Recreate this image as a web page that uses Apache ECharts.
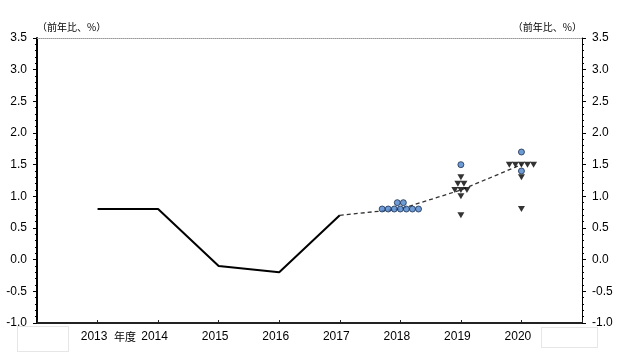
<!DOCTYPE html>
<html><head><meta charset="utf-8">
<script src="https://cdn.jsdelivr.net/npm/echarts@6/dist/echarts.min.js"></script>
<style>html,body{margin:0;padding:0;background:#fff}#c{width:620px;height:355px}</style>
</head><body><div id="c"></div>
<script>
// actual results (fiscal years)
const actualYears = [2013, 2014, 2015, 2016, 2017];
const actualValues = [0.8, 0.8, -0.1, -0.2, 0.7];
// median of forecasts
const medianYears = [2017, 2018, 2019, 2020];
const medianValues = [0.7, 0.8, 1.1, 1.5];
// individual forecasts
const forecastYears = [2018, 2019, 2020];
const balancedRisk = [[0.8, 0.8, 0.8, 0.8, 0.8, 0.8, 0.8, 0.9, 0.9], [1.5], [1.7, 1.4]];
const downsideRisk = [[], [1.3, 1.2, 1.2, 1.1, 1.1, 1.1, 1.0, 0.7], [1.5, 1.5, 1.5, 1.5, 1.5, 1.3, 0.8]];
// tick labels
const xTickLabels = ['2013', '2014', '2015', '2016', '2017', '2018', '2019', '2020'];
const xFirstLabelYear = 2013;
const yAxisName = '（前年比、%）';
const fiscalYearText = '年度';

function dodge(years, groups) {
  const out = [];
  years.forEach((yr, i) => {
    const counts = {};
    const order = [];
    groups[i].forEach(v => { if (!(v in counts)) { counts[v] = 0; order.push(v); } counts[v]++; });
    order.forEach(v => {
      const n = counts[v];
      for (let j = 0; j < n; j++) out.push([yr + (j - (n - 1) / 2) * 0.1, v]);
    });
  });
  return out;
}

const numFont = 'Liberation Sans, Arial, sans-serif';
const cjkFont = 'Noto Sans CJK JP, sans-serif';

const yAxisCommon = {
  type: 'value', min: -1, max: 3.5, interval: 0.5,
  splitLine: { show: false },
  axisTick: { show: true, inside: false, length: 4, lineStyle: { color: '#000' } },
  minorTick: { show: true, splitNumber: 5, length: 2, lineStyle: { color: '#000' } },
  axisLabel: { color: '#000', fontSize: 12, fontFamily: numFont, margin: 10, formatter: v => v.toFixed(1) },
  name: yAxisName, nameLocation: 'end', nameGap: 6
};

const chart = echarts.init(document.getElementById('c'), null, { renderer: 'canvas' });
chart.setOption({
  animation: false,
  backgroundColor: '#fff',
  grid: { left: 37, right: 38, top: 38, bottom: 32 },
  xAxis: [{
    type: 'value', min: 2012, max: 2021, interval: 1, position: 'bottom',
    splitLine: { show: false },
    axisLine: { show: true, onZero: false, lineStyle: { color: '#222', width: 2 } },
    axisTick: { show: true, inside: true, length: 3, lineStyle: { color: '#222' } },
    axisLabel: {
      color: '#000', fontSize: 12, fontFamily: numFont, margin: 8, padding: [0, 7, 0, 0],
      formatter: v => xTickLabels[v - xFirstLabelYear] || ''
    }
  }, {
    type: 'value', min: 2012, max: 2021, position: 'top',
    splitLine: { show: false }, axisTick: { show: false }, axisLabel: { show: false },
    axisLine: { show: true, onZero: false, lineStyle: { color: '#999', width: 1, type: [1, 1] } }
  }],
  yAxis: [Object.assign({}, yAxisCommon, {
    position: 'left',
    axisLine: { show: true, onZero: false, lineStyle: { color: '#000', width: 2 } },
    nameTextStyle: { color: '#000', fontSize: 10, fontFamily: cjkFont, align: 'left' }
  }), Object.assign({}, yAxisCommon, {
    position: 'right',
    axisLine: { show: true, onZero: false, lineStyle: { color: '#000', width: 1 } },
    nameTextStyle: { color: '#000', fontSize: 10, fontFamily: cjkFont, align: 'right' }
  })],
  series: [{
    type: 'line', z: 2,
    data: actualYears.map((y, i) => [y, actualValues[i]]),
    showSymbol: false, symbol: 'none',
    lineStyle: { color: '#000', width: 2 }
  }, {
    type: 'line', z: 2,
    data: medianYears.map((y, i) => [y, medianValues[i]]),
    showSymbol: false, symbol: 'none',
    lineStyle: { color: '#333', width: 1.3, type: [4, 3] }
  }, {
    type: 'scatter', z: 4,
    data: dodge(forecastYears, downsideRisk),
    symbol: 'triangle', symbolRotate: 180, symbolSize: [7, 6],
    itemStyle: { color: '#000' }
  }, {
    type: 'scatter', z: 5,
    data: dodge(forecastYears, balancedRisk),
    symbol: 'circle', symbolSize: 6,
    itemStyle: { color: '#4a82cc', borderColor: '#1a2f50', borderWidth: 1 }
  }],
  graphic: [{
    type: 'text', left: 114, top: 331,
    style: { text: fiscalYearText, fill: '#000', font: '11px ' + cjkFont }
  }, {
    type: 'rect', shape: { x: 17.5, y: 326.5, width: 51, height: 25 },
    style: { fill: 'none', stroke: '#ccc', lineWidth: 1, lineDash: [1, 1] }
  }, {
    type: 'rect', shape: { x: 541.5, y: 327.5, width: 56, height: 20 },
    style: { fill: 'none', stroke: '#ccc', lineWidth: 1, lineDash: [1, 1] }
  }]
});
</script></body></html>
